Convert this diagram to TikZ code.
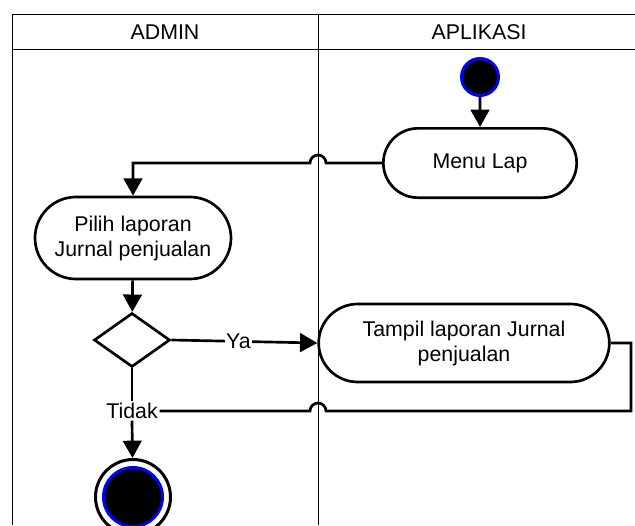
\documentclass[tikz,border=0pt]{standalone}
\usepackage{fontspec}
\setmainfont{Liberation Sans}
\usetikzlibrary{shapes.misc,shapes.geometric,arrows.meta}

\tikzset{every picture/.style={line width=0.75pt}}
\tikzset{
  lane/.style={draw=black, line width=0.75pt},
  txt/.style={font=\fontsize{16}{18.75}\selectfont},
  act/.style={txt, draw, rounded rectangle, line width=2pt, align=center, inner sep=0pt},
  decide/.style={draw, diamond, line width=2pt, inner sep=0pt, minimum width=57pt, minimum height=40.5pt},
  lbl/.style={txt, fill=white, inner sep=1pt},
  flow/.style={line width=2pt, -{Triangle[width=14pt,length=13pt]}},
  wire/.style={line width=2pt}
}

\begin{document}
\begin{tikzpicture}[x=0.75pt,y=0.75pt,yscale=-1,xscale=1]
	\useasboundingbox (0,0) rectangle (635,525);

	%Swimlanes
	\draw [lane] (12,525) -- (12,14) -- (635,14) ;
	\draw [lane] (12,49) -- (635,49) ;
	\draw [lane] (318,14) -- (318,525) ;
	% Text Node
	\node [txt] (admin) at (165,32) {ADMIN};
	% Text Node
	\node [txt] (aplikasi) at (479,32) {APLIKASI};

	%Shape: Circle [start]
	\node [circle, fill=black, draw=blue, line width=2.25pt, minimum size=27.75pt, inner sep=0pt] (start) at (480,77) {};
	%Shape: Terminator
	\node [act, minimum width=145pt, minimum height=52pt] (menu) at (480,163) {Menu Lap};
	%Shape: Terminator
	\node [act, minimum width=147pt, minimum height=61.5pt] (pilih) at (133,238) {Pilih laporan\\Jurnal penjualan};
	%Shape: Diamond
	\node [decide] (dec) at (132,340) {};
	%Shape: Terminator
	\node [act, minimum width=218pt, minimum height=58.5pt] (tampil) at (464,343) {Tampil laporan Jurnal\\penjualan};
	% Text Node
	\node [lbl] (tidak) at (132,411) {Tidak};
	%Shape: Circle [end]
	\node [circle, fill=white, draw=black, line width=2.25pt, minimum size=56.25pt, inner sep=0pt] (end) at (133,497) {};
	\node [circle, fill=black, draw=blue, line width=2.25pt, minimum size=44.25pt, inner sep=0pt] (endin) at (end.center) {};

	\coordinate (hopA) at (326,163);
	\coordinate (hopB) at (326,411);
	\coordinate (loopR) at (631,411);

	%Connectors
	\draw [flow] (start) -- (menu) ;
	\draw [flow] (menu.west) -- (hopA) arc [start angle=0, end angle=-180, radius=8] -| (pilih.north) ;
	\draw [flow] (pilih) -- (dec) ;
	\draw [flow] (dec.east) -- (tampil.west) node [lbl, pos=0.46] (ya) {Ya} ;
	\draw [wire] (tampil.east) -| (loopR) -- (hopB) arc [start angle=0, end angle=-180, radius=8] -- (tidak.east) ;
	\draw [wire] (dec.south) -- (tidak.north) ;
	\draw [flow] (tidak.south) -- (end) ;

\end{tikzpicture}
\end{document}
